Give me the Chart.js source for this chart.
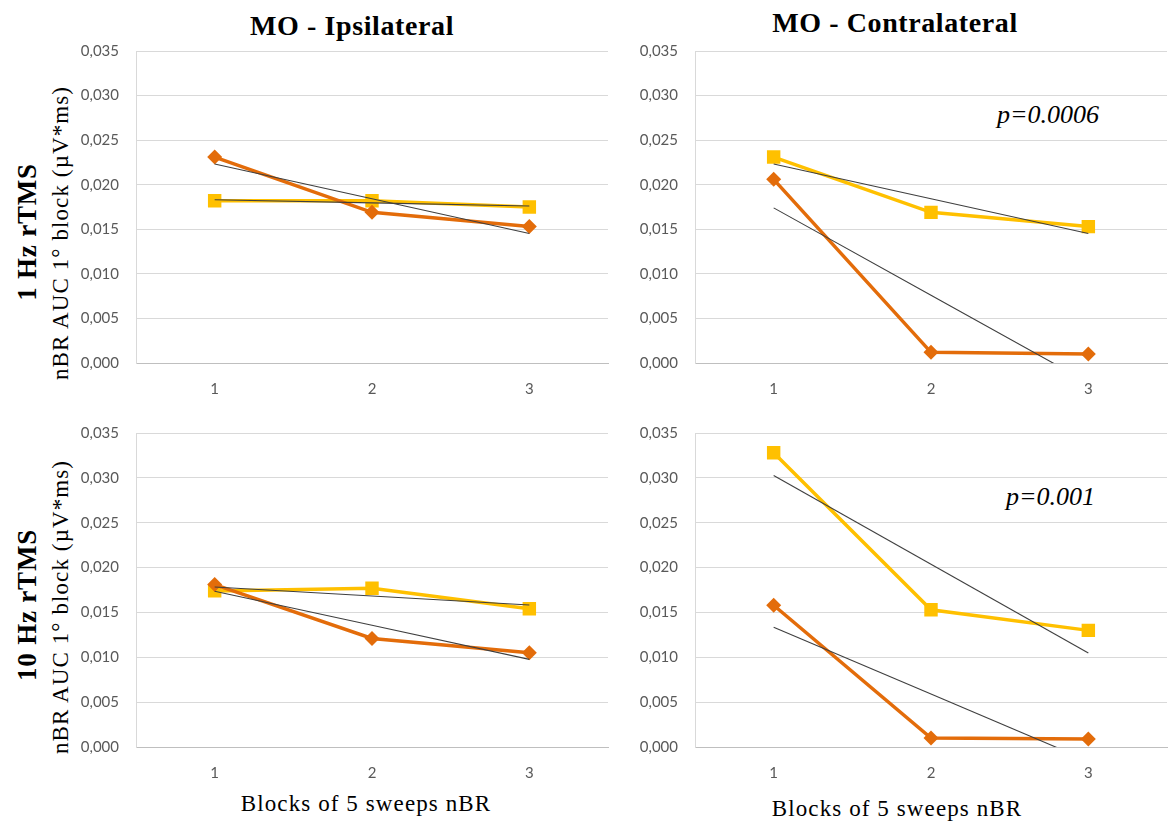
<!DOCTYPE html>
<html>
<head>
<meta charset="utf-8">
<script src="https://cdn.jsdelivr.net/npm/chart.js@4.4.0/dist/chart.umd.min.js"></script>
<style>
  html, body { margin: 0; padding: 0; background: #fff; }
  body { width: 1168px; height: 821px; position: relative; overflow: hidden; }
  canvas.panel { position: absolute; }
  .txt { position: absolute; white-space: nowrap; color: #000; font-family: "Liberation Serif", "DejaVu Serif", serif; line-height: 1; }
  .c { transform: translate(-50%, -50%); }
  .rot { transform: translate(-50%, -50%) rotate(-90deg); }
  .title { font-weight: bold; font-size: 28px; letter-spacing: 0.6px; }
  .row { font-weight: bold; font-size: 27px; letter-spacing: 0.8px; }
  .ylab { font-size: 23px; letter-spacing: 1.1px; }
  .xlab { font-size: 23px; letter-spacing: 1.1px; }
  .pval { font-style: italic; font-size: 26px; transform: translate(-100%, -50%); }
</style>
</head>
<body>
<div class="txt c title" style="left:352px; top:26px;">MO - Ipsilateral</div>
<div class="txt c title" style="left:895px; top:23px;">MO - Contralateral</div>
<div class="txt rot row" style="left:27px; top:232px;">1 Hz rTMS</div>
<div class="txt rot ylab" style="left:60px; top:233px;">nBR AUC 1° block (µV*ms)</div>
<div class="txt rot row" style="left:27px; top:605px;">10 Hz rTMS</div>
<div class="txt rot ylab" style="left:60px; top:607px;">nBR AUC 1° block (µV*ms)</div>
<div class="txt c xlab" style="left:366px; top:803px;">Blocks of 5 sweeps nBR</div>
<div class="txt c xlab" style="left:897px; top:808px;">Blocks of 5 sweeps nBR</div>
<div class="txt pval" style="left:1099px; top:115px;">p=0.0006</div>
<div class="txt pval" style="left:1095px; top:497px;">p=0.001</div>

<script>
// ---- Data ----
const categories = ['1', '2', '3'];
const yMin = 0, yMax = 0.035, yStep = 0.005;

const ipsi1Hz_yellow   = [0.0182, 0.0182, 0.0175];
const ipsi1Hz_orange   = [0.0231, 0.0169, 0.0153];
const contra1Hz_yellow = [0.0231, 0.0169, 0.0153];
const contra1Hz_orange = [0.0206, 0.0012, 0.0010];
const ipsi10Hz_yellow  = [0.0174, 0.0177, 0.0154];
const ipsi10Hz_orange  = [0.0181, 0.0121, 0.0105];
const contra10Hz_yellow = [0.0328, 0.0153, 0.0130];
const contra10Hz_orange = [0.0158, 0.0010, 0.0009];

// ---- Styles ----
const YELLOW = '#FFC000';
const ORANGE = '#E36C0A';
const TREND = '#3F3F3F';

// linear least-squares trendline (Excel-style linear trendline)
function trend(vals) {
  const n = vals.length;
  const xs = vals.map((_, i) => i + 1);
  const mx = xs.reduce((a, b) => a + b, 0) / n;
  const my = vals.reduce((a, b) => a + b, 0) / n;
  let sxy = 0, sxx = 0;
  for (let i = 0; i < n; i++) { sxy += (xs[i] - mx) * (vals[i] - my); sxx += (xs[i] - mx) ** 2; }
  const b = sxy / sxx;
  return xs.map(x => my + b * (x - mx));
}

const YW = 70, PADTOP = 12, TOPOFF = 26, XH = 45;

function makePanel(rect, yellow, orange) {
  const cv = document.createElement('canvas');
  cv.className = 'panel';
  const w = rect.r - rect.l + YW + 1;
  const h = rect.b - rect.t + TOPOFF + XH;
  cv.width = w; cv.height = h;
  cv.style.width = w + 'px'; cv.style.height = h + 'px';
  cv.style.left = (rect.l - YW) + 'px';
  cv.style.top = (rect.t - TOPOFF) + 'px';
  document.body.appendChild(cv);

  new Chart(cv.getContext('2d'), {
    type: 'line',
    data: {
      labels: categories,
      datasets: [
        { data: trend(yellow), borderColor: TREND, borderWidth: 1.1, pointRadius: 0, order: 0 },
        { data: trend(orange), borderColor: TREND, borderWidth: 1.1, pointRadius: 0, order: 0 },
        { data: orange, borderColor: ORANGE, backgroundColor: ORANGE, borderWidth: 3.5,
          pointStyle: 'rectRot', pointRadius: 7.5, pointBorderWidth: 0, pointBackgroundColor: ORANGE, order: 1 },
        { data: yellow, borderColor: YELLOW, backgroundColor: YELLOW, borderWidth: 3.5,
          pointStyle: 'rect', pointRadius: 9.5, pointBorderWidth: 0, pointBackgroundColor: YELLOW, order: 2 }
      ]
    },
    options: {
      responsive: false,
      maintainAspectRatio: false,
      animation: false,
      events: [],
      layout: { autoPadding: false, padding: { top: PADTOP, right: 1, bottom: 0, left: 0 } },
      plugins: { legend: { display: false }, tooltip: { enabled: false }, title: { display: false } },
      scales: {
        x: {
          type: 'category',
          offset: true,
          grid: { display: false, drawTicks: false },
          border: { display: true, color: '#BFBFBF', width: 1 },
          ticks: { color: '#595959', padding: 17, font: { family: 'Lato', size: 15 } },
          afterFit: s => { s.height = XH; }
        },
        y: {
          min: yMin, max: yMax,
          grid: { color: '#D9D9D9', lineWidth: 1, drawTicks: false },
          border: { display: true, color: '#D9D9D9', width: 1 },
          ticks: {
            stepSize: yStep, autoSkip: false,
            color: '#595959', padding: 17, font: { family: 'Lato', size: 15 },
            callback: v => v.toFixed(3).replace('.', ',')
          },
          afterFit: s => { s.width = YW; }
        }
      }
    }
  });
}

makePanel({ l: 136, t: 51, r: 608, b: 363 }, ipsi1Hz_yellow, ipsi1Hz_orange);
makePanel({ l: 695, t: 51, r: 1167, b: 363 }, contra1Hz_yellow, contra1Hz_orange);
makePanel({ l: 136, t: 433, r: 608, b: 747 }, ipsi10Hz_yellow, ipsi10Hz_orange);
makePanel({ l: 695, t: 433, r: 1167, b: 747 }, contra10Hz_yellow, contra10Hz_orange);
</script>
</body>
</html>
